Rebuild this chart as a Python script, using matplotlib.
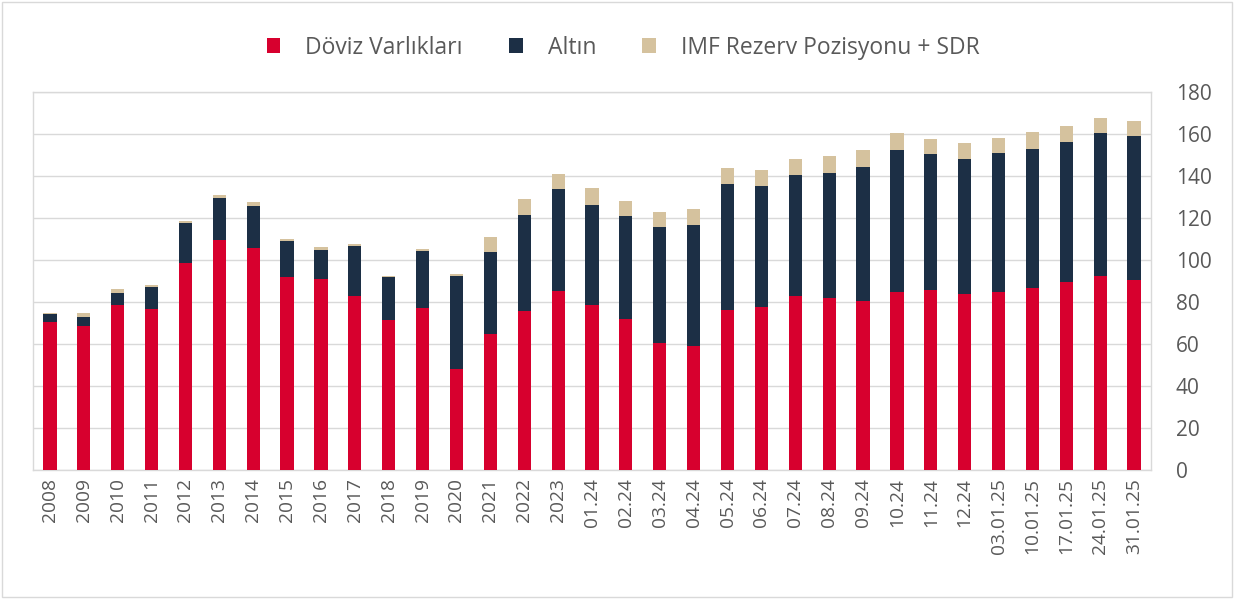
import numpy as np
import matplotlib.pyplot as plt
from matplotlib.patches import Rectangle

# Values (billion USD)
labels = ["2008", "2009", "2010", "2011", "2012", "2013", "2014", "2015", "2016",
          "2017", "2018", "2019", "2020", "2021", "2022", "2023",
          "01.24", "02.24", "03.24", "04.24", "05.24", "06.24", "07.24", "08.24",
          "09.24", "10.24", "11.24", "12.24",
          "03.01.25", "10.01.25", "17.01.25", "24.01.25", "31.01.25"]
doviz = [70.7, 68.8, 78.6, 76.9, 98.5, 109.6, 105.5, 91.7, 90.9,
         82.9, 71.5, 77.1, 48.3, 64.8, 75.9, 85.2,
         78.5, 71.8, 60.7, 59.1, 76.4, 77.5, 82.9, 81.7,
         80.7, 84.8, 85.5, 83.7,
         84.7, 86.8, 89.6, 92.5, 90.6]
altin = [3.5, 4.0, 5.6, 10.2, 19.1, 19.9, 20.0, 17.3, 14.0,
         23.6, 20.2, 27.1, 43.9, 38.8, 45.6, 48.6,
         47.8, 49.3, 55.0, 57.8, 59.9, 57.9, 57.4, 59.7,
         63.6, 67.4, 64.8, 64.5,
         66.2, 66.0, 66.7, 68.0, 68.3]
imf = [0.5, 1.9, 1.9, 0.9, 0.9, 1.3, 1.9, 0.9, 1.1,
       0.9, 0.9, 1.1, 1.2, 7.3, 7.5, 7.1,
       8.0, 7.1, 7.1, 7.3, 7.3, 7.6, 7.9, 8.3,
       7.9, 8.3, 7.2, 7.3,
       7.3, 8.1, 7.3, 7.1, 7.3]

red = "#D7002E"
navy = "#1C2F45"
beige = "#D5C29E"
grey_text = "#595959"
grid_col = "#D9D9D9"

plt.rcParams['font.family'] = ['Open Sans', 'DejaVu Sans']

fig = plt.figure(figsize=(12.34, 5.99), dpi=100)
ax = fig.add_axes([33 / 1234, 1 - 470 / 599, (1151 - 33) / 1234, (470 - 92) / 599])

x = np.arange(len(labels))
d = np.array(doviz)
a = np.array(altin)
w = 0.39
ax.bar(x, d, w, color=red, label="Döviz Varlıkları", zorder=3)
ax.bar(x, a, w, bottom=d, color=navy, label="Altın", zorder=3)
ax.bar(x, imf, w, bottom=d + a, color=beige, label="IMF Rezerv Pozisyonu + SDR", zorder=3)

ax.set_xlim(-0.5, len(labels) - 0.5)
ax.set_ylim(0, 180)
ax.set_yticks(range(0, 181, 20))
ax.yaxis.tick_right()
ax.grid(axis='y', color=grid_col, linewidth=1, zorder=0)
ax.set_xticks(x)
ax.set_xticklabels(labels, rotation=90)
ax.tick_params(axis='both', length=0, colors=grey_text)
ax.tick_params(axis='x', labelsize=13.8, pad=6)
ax.tick_params(axis='y', labelsize=15, pad=18)
for s in ax.spines.values():
    s.set_color(grid_col)
    s.set_linewidth(1)

leg = fig.legend(loc='upper center', bbox_to_anchor=(0.505, 0.975), ncol=3, frameon=False,
                 fontsize=16.5, handlelength=0.6, handleheight=0.6, columnspacing=2.0,
                 handletextpad=1.1)
for t in leg.get_texts():
    t.set_color(grey_text)

# light frame around the whole picture
fig.patches.append(Rectangle((0.002, 0.003), 0.996, 0.994, transform=fig.transFigure,
                             fill=False, edgecolor=grid_col, linewidth=1))

plt.savefig("out.png", dpi=100)
